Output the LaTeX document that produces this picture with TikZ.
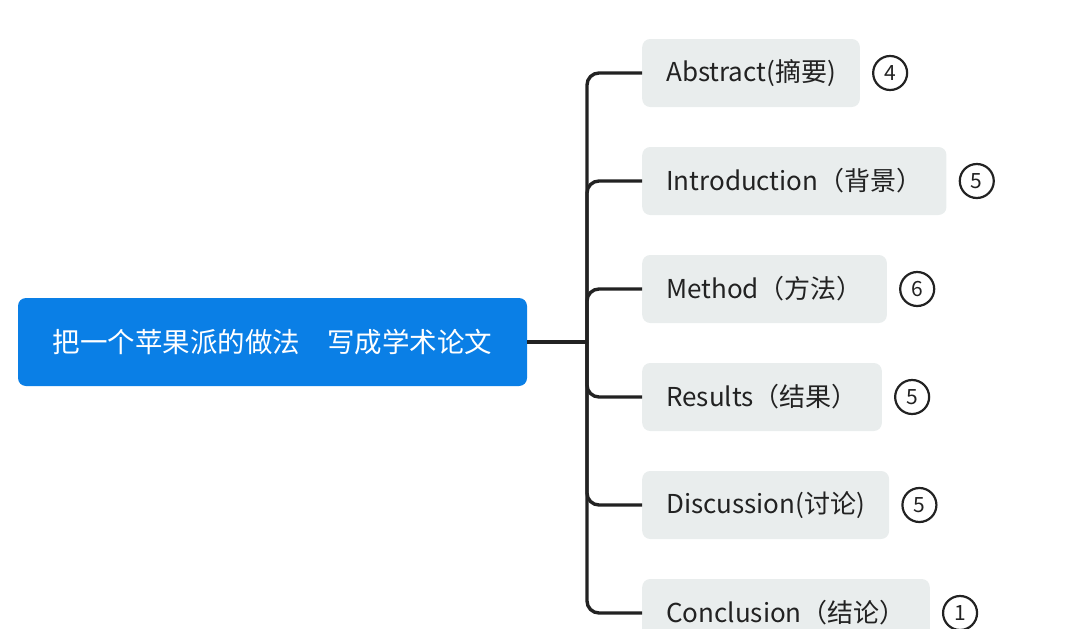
\documentclass[tikz,border=0pt]{standalone}
\usepackage{fontspec}
\setmainfont{Noto Sans CJK SC}
\usetikzlibrary{positioning}
\definecolor{rootblue}{HTML}{0A7FE6}
\definecolor{boxgray}{HTML}{E9EDED}
\definecolor{inkgray}{HTML}{222222}

\begin{document}
\begin{tikzpicture}[x=1pt,y=-1pt,
  root/.style={fill=rootblue,rounded corners=8pt,minimum width=509pt,minimum height=88pt,
               text=white,font=\fontsize{27.5}{32}\selectfont},
  topic/.style={fill=boxgray,rounded corners=8pt,minimum height=68pt,inner xsep=24pt,
                anchor=west,text=inkgray,font=\fontsize{26}{30}\selectfont},
  count/.style={circle,draw=inkgray,line width=2.2pt,minimum size=34pt,inner sep=0pt,
                text=inkgray,font=\fontsize{21}{24}\selectfont},
  branch/.style={draw=inkgray,line width=3.4pt,rounded corners=12pt}]
  \useasboundingbox (0,0) rectangle (1080,629);
  \clip (0,0) rectangle (1080,629);

  \node[root] (root) at (272.5,342) {把一个苹果派的做法　写成学术论文};
  \coordinate (trunk) at (587,342);

  \node[topic] (abs)   at (642,73)  {Abstract(摘要)};
  \node[topic] (intro) at (642,181) {Introduction（背景）};
  \node[topic] (meth)  at (642,289) {Method（方法）};
  \node[topic] (res)   at (642,397) {Results（结果）};
  \node[topic] (disc)  at (642,505) {Discussion(讨论)};
  \node[topic] (concl) at (642,613) {Conclusion（结论）};

  \node[count,right=12pt of abs]   (n-abs)   {4};
  \node[count,right=12pt of intro] (n-intro) {5};
  \node[count,right=12pt of meth]  (n-meth)  {6};
  \node[count,right=12pt of res]   (n-res)   {5};
  \node[count,right=12pt of disc]  (n-disc)  {5};
  \node[count,right=12pt of concl] (n-concl) {1};

  \path[branch] (root.east) -- (trunk);
  \foreach \t in {abs,intro,meth,res,disc,concl}
    \path[branch] (trunk) |- (\t.west);
\end{tikzpicture}
\end{document}
